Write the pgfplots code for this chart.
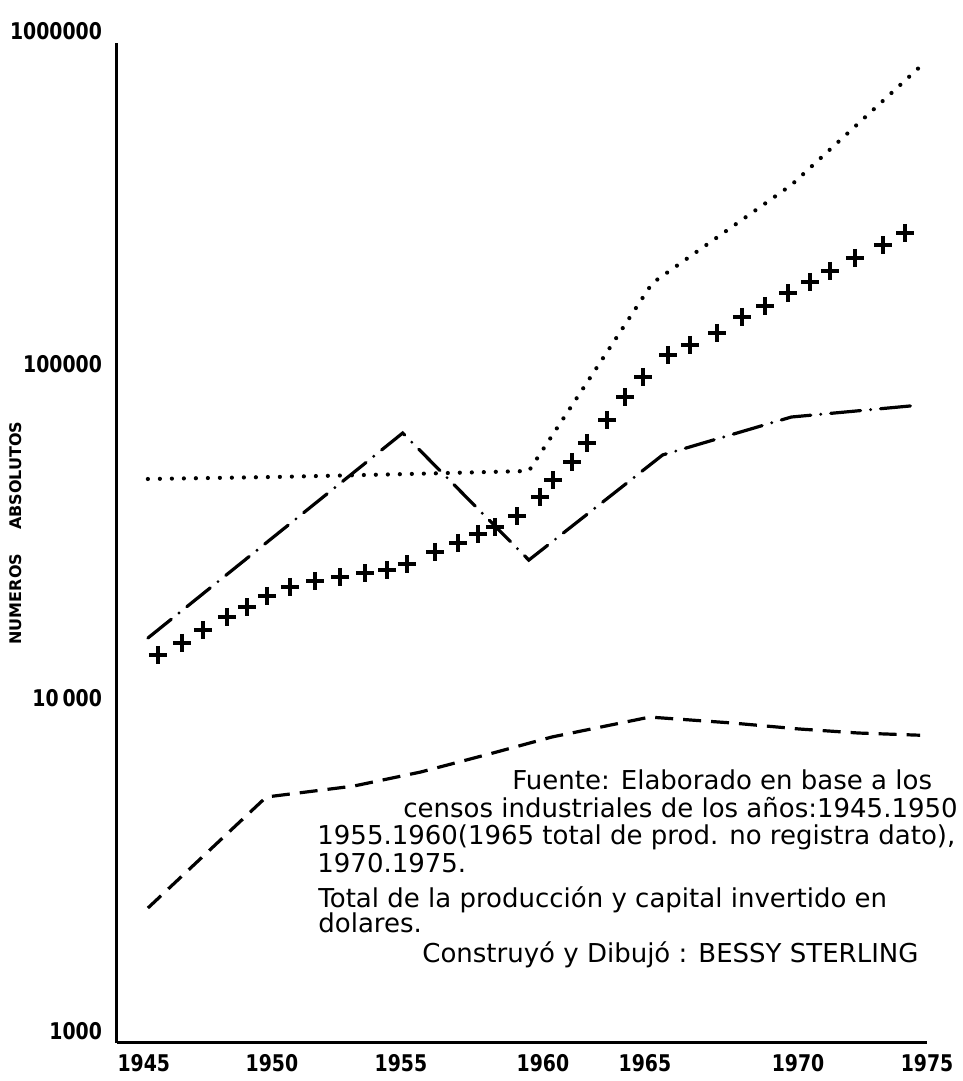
\documentclass[border=0pt]{standalone}
\usepackage{pgfplots}
\pgfplotsset{compat=1.18}
\usepackage{fontspec}
\setmainfont{DejaVu Sans}
\newfontfamily\tickfont[FakeStretch=0.82]{DejaVu Sans}
\newfontfamily\annfont{DejaVu Sans}
\begin{document}
\begin{tikzpicture}
\begin{axis}[
  name=ax,
  width=405pt, height=500pt, scale only axis,
  ymode=log, log basis y=10,
  xmin=1943.8, xmax=1975.27,
  ymin=1000, ymax=1000000,
  axis lines*=left,
  axis line style={line width=1.5pt},
  major tick length=0pt,
  xtick={1944.84,1949.82,1954.83,1960.35,1964.31,1970.26,1975.27},
  xticklabels={1945,1950,1955,1960,1965,1970,1975},
  ytick={1000,10000,100000,1000000},
  yticklabels={1000,10\,000,100000,1000000},
  xticklabel style={font=\tickfont\bfseries\fontsize{11.5pt}{13pt}\selectfont, yshift=-2pt},
  yticklabel style={font=\tickfont\bfseries\fontsize{11.5pt}{13pt}\selectfont, anchor=east, xshift=-4pt, yshift=6pt},
  ylabel={NUMEROS\hspace{12pt}ABSOLUTOS},
  ylabel style={font=\bfseries\fontsize{8pt}{9pt}\selectfont, at={(axis description cs:-0.1247,0.51)}, anchor=center, rotate=0},
  clip=false,
]
% dotted series
\addplot[black, line width=2.1pt, line cap=round, dash pattern=on 0pt off 6pt] coordinates {
  (1945,49200) (1950,49900) (1955,50900) (1959.8,52000)
  (1964.6,190500) (1970,375000) (1975.2,877000)
};
% dash-dot series
\addplot[black, line width=1.6pt, line cap=round, dash pattern=on 15pt off 5pt on 0pt off 5pt] coordinates {
  (1945,16400) (1954.9,67600) (1959.8,28100) (1965,58100) (1970,75500) (1975,82000)
};
% dashed series
\addplot[black, line width=1.6pt, dash pattern=on 9pt off 5pt] coordinates {
  (1945,2540) (1949.6,5470) (1953,5900) (1955.6,6500) (1958.4,7410)
  (1960.7,8280) (1962.6,8870) (1964.5,9500) (1967.7,9120) (1970.3,8750)
  (1972.6,8510) (1975,8380)
};
% crosses series
\addplot[black, only marks, mark=+, mark size=4.5pt, mark options={line width=1.7pt}] coordinates {
  (1945.39,14590) (1946.32,15850) (1947.14,17340) (1948.07,18970) (1948.85,20320)
  (1949.62,21930) (1950.52,23340) (1951.49,24320) (1952.46,25000) (1953.43,25700)
  (1954.29,26240) (1955.06,27350) (1956.15,29720) (1957.05,31620) (1957.82,33650)
  (1958.48,35320) (1959.34,38100) (1960.23,43450) (1960.74,48860) (1961.48,55340)
  (1962.06,63100) (1962.84,73960) (1963.54,86700) (1964.24,99540) (1965.21,115900)
  (1966.06,124200) (1967.11,134900) (1968.08,150700) (1968.98,162600) (1969.87,177800)
  (1970.73,191900) (1971.50,207000) (1972.47,226500) (1973.56,247700) (1974.42,269200)
};
\begin{scope}[every node/.style={font=\annfont\fontsize{13pt}{14pt}\selectfont, anchor=west, inner sep=0pt}]
\node at (axis description cs:0.4877,0.263) {Fuente: Elaborado en base a los};
\node at (axis description cs:0.3531,0.235) {censos industriales de los años:1945.1950};
\node at (axis description cs:0.2469,0.206) {1955.1960(1965 total de prod. no registra dato),};
\node at (axis description cs:0.2469,0.180) {1970.1975.};
\node at (axis description cs:0.2481,0.143) {Total de la producción y capital invertido en};
\node at (axis description cs:0.2481,0.120) {dolares.};
\node at (axis description cs:0.3765,0.088) {Construyó y Dibujó : BESSY STERLING};
\end{scope}
\end{axis}
\pgfresetboundingbox
\path ([xshift=-58.5pt,yshift=-19pt]ax.south west) rectangle ([xshift=18pt,yshift=21.5pt]ax.north east);
\end{tikzpicture}
\end{document}
